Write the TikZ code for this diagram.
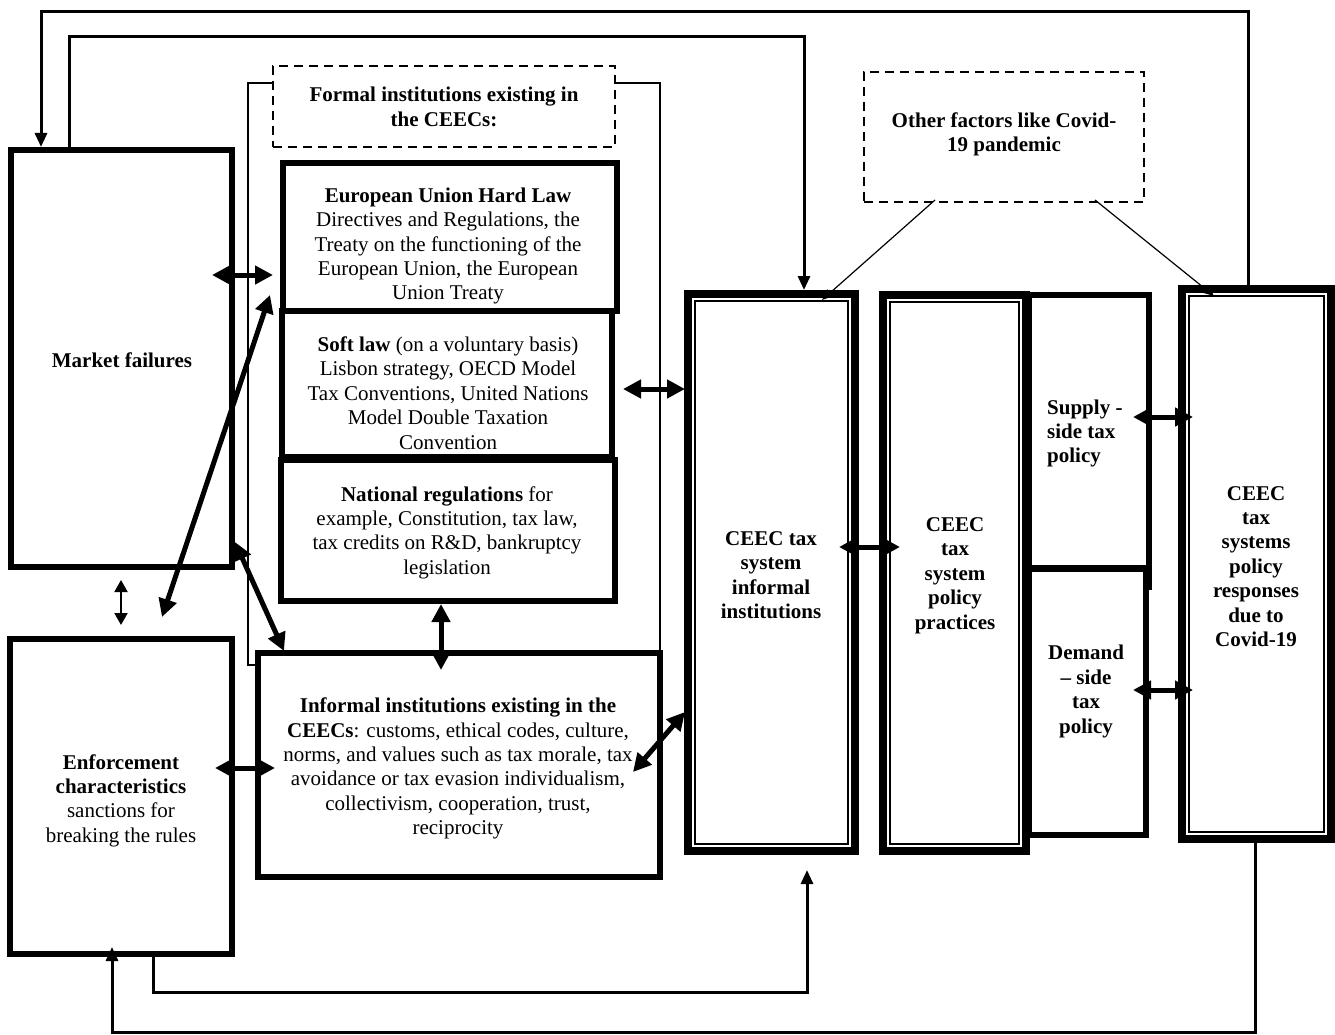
\documentclass[tikz,border=0pt]{standalone}
\usepackage{fontspec}
\setmainfont{Liberation Serif}
\usetikzlibrary{arrows.meta}
\begin{document}
\begin{tikzpicture}[x=1pt,y=-1pt,
  bx/.style={draw,line width=6pt,inner sep=0pt,outer sep=0pt},
  dbx/.style={draw,line width=8pt,inner sep=0pt,outer sep=0pt},
  innerline/.style={draw,line width=2pt},
  dsh/.style={draw,line width=2.5pt,dash pattern=on 9pt off 6pt,inner sep=0pt,outer sep=0pt},
  txt/.style={align=center,inner sep=0pt,font=\fontsize{21}{24.4}\selectfont},
  darr/.style={line width=5pt,arrows={Triangle[length=18pt,width=18pt]-Triangle[length=18pt,width=18pt]}},
  sarr/.style={line width=2pt,arrows={Triangle[length=12pt,width=13pt]-Triangle[length=12pt,width=13pt]}},
  link/.style={line width=3pt,-{Triangle[length=14pt,width=12pt]}},
  fine/.style={line width=1.2pt,-{Triangle[length=11pt,width=9pt]}},
  brk/.style={line width=1.5pt}]
\path[fill=white] (0,0) rectangle (1335,1035);
\useasboundingbox (0,0) rectangle (1335,1035);

% boxes
\node[bx,minimum width=221pt,minimum height=417pt] (mf) at (121.5,358.5) {};
\node[bx,minimum width=222pt,minimum height=315pt] (enf) at (121,796.5) {};
\node[bx,minimum width=334pt,minimum height=148pt] (eu) at (450,237) {};
\node[bx,minimum width=330pt,minimum height=146pt] (soft) at (447,384) {};
\node[bx,minimum width=334pt,minimum height=141pt] (nat) at (448,530.5) {};
\node[bx,minimum width=402pt,minimum height=224pt] (inf) at (459,765) {};
\node[dbx,minimum width=167pt,minimum height=557pt] (dinf) at (771.5,572.5) {};
\node[dbx,minimum width=143pt,minimum height=556pt] (prac) at (954.5,573) {};
\node[bx,minimum width=120pt,minimum height=273pt] (sup) at (1089,431.5) {};
\node[bx,minimum width=117pt,minimum height=266pt] (dem) at (1087.5,702) {};
\node[dbx,minimum width=149pt,minimum height=550pt] (resp) at (1256.5,564) {};
\node[dsh,minimum width=342pt,minimum height=81pt] (formal) at (444,106.5) {};
\node[dsh,minimum width=280pt,minimum height=130pt] (other) at (1004,137) {};

\draw[line width=6pt] (sup.south east) -- ++(0,22);

% inner lines of the double boxes
\draw[innerline] ([shift={(7pt,-7pt)}]dinf.north west) rectangle ([shift={(-7pt,7pt)}]dinf.south east);
\draw[innerline] ([shift={(7pt,-7pt)}]prac.north west) rectangle ([shift={(-7pt,7pt)}]prac.south east);
\draw[innerline] ([shift={(7pt,-7pt)}]resp.north west) rectangle ([shift={(-7pt,7pt)}]resp.south east);

% texts
\node[txt] (formalT) at (444,107) {\textbf{Formal institutions existing in}\\\textbf{the CEECs:}};
\node[txt] (otherT) at (1004,134.5) {\textbf{Other factors like Covid-}\\\textbf{19 pandemic}};
\node[txt] (mfT) at (122,360) {\textbf{Market failures}};
\node[txt] (euT) at (448,246) {\textbf{European Union Hard Law}\\Directives and Regulations, the\\Treaty on the functioning of the\\European Union, the European\\Union Treaty};
\node[txt] (softT) at (448,393) {\textbf{Soft law} (on a voluntary basis)\\Lisbon strategy, OECD Model\\Tax Conventions, United Nations\\Model Double Taxation\\Convention};
\node[txt] (natT) at (447,532.5) {\textbf{National regulations} for\\example, Constitution, tax law,\\tax credits on R\&D, bankruptcy\\legislation};
\node[txt] (infT) at (458,768.5) {\textbf{Informal institutions existing in the}\\\textbf{CEECs}: customs, ethical codes, culture,\\norms, and values such as tax morale, tax\\avoidance or tax evasion individualism,\\collectivism, cooperation, trust,\\reciprocity};
\node[txt] (enfT) at (121,800.5) {\textbf{Enforcement}\\\textbf{characteristics}\\sanctions for\\breaking the rules};
\node[txt] (dinfT) at (771,575) {\textbf{CEEC tax}\\\textbf{system}\\\textbf{informal}\\\textbf{institutions}};
\node[txt] (pracT) at (955,575.5) {\textbf{CEEC}\\\textbf{tax}\\\textbf{system}\\\textbf{policy}\\\textbf{practices}};
\node[txt,align=left,anchor=west] (supT) at (1047,433.5) {\textbf{Supply -}\\\textbf{side tax}\\\textbf{policy}};
\node[txt] (demT) at (1086,691.5) {\textbf{Demand}\\\textbf{– side}\\\textbf{tax}\\\textbf{policy}};
\node[txt] (respT) at (1256,566.5) {\textbf{CEEC}\\\textbf{tax}\\\textbf{systems}\\\textbf{policy}\\\textbf{responses}\\\textbf{due to}\\\textbf{Covid-19}};

% bracket of formal institutions
\draw[brk] ([yshift=23.5pt]formal.west) -| (248,665) -- ([yshift=-12pt]inf.north west);
\draw[brk] ([yshift=23.5pt]formal.east) -| (inf.north east);

% long connectors
\draw[link,shorten >=3pt] ([xshift=66pt]resp.north west) |- (41,12) -- ([xshift=30pt]mf.north west);
\draw[link,shorten >=4pt] ([xshift=58pt]mf.north west) |- (804,37) -- ([xshift=116pt]dinf.north west);
\draw[link,shorten >=19pt] ([xshift=143pt]enf.south west) |- (807,992) -- ([xshift=119pt]dinf.south west);
\draw[link] ([xshift=73pt]resp.south west) |- (112,1032) -- ([xshift=102pt,yshift=7pt]enf.south west);

% other factors arrows
\draw[fine] ([xshift=71pt,yshift=2pt]other.south west) -- ([xshift=-33pt,yshift=-6pt]dinf.north east);
\draw[fine] ([xshift=231pt,yshift=2pt]other.south west) -- ([xshift=32pt,yshift=-7pt]resp.north west);

% thick double arrows
\draw[darr] ([xshift=-20pt,yshift=83.5pt]mf.east) -- ([xshift=-10pt,yshift=-38pt]eu.west);
\draw[darr] ([xshift=40.5pt,yshift=-50pt]mf.south) -- ([xshift=-13pt,yshift=16pt]eu.south west);
\draw[darr] ([xshift=3pt,yshift=25pt]mf.south east) -- ([xshift=26pt,yshift=2pt]inf.north west);
\draw[darr] ([xshift=11pt,yshift=-5pt]soft.east) -- ([xshift=-3pt,yshift=183.5pt]dinf.west);
\draw[darr] ([xshift=-7pt,yshift=-3pt]nat.south) -- ([xshift=-18pt,yshift=-17pt]inf.north);
\draw[darr] ([xshift=-17pt,yshift=28.5pt]enf.east) -- ([xshift=17pt,yshift=-3pt]inf.west);
\draw[darr] ([xshift=-27pt,yshift=-7pt]inf.east) -- ([xshift=-3pt,yshift=-139.5pt]dinf.west);
\draw[darr] ([xshift=-16pt,yshift=25.5pt]dinf.east) -- ([xshift=17pt,yshift=26pt]prac.west);
\draw[darr] ([xshift=-16pt,yshift=14.5pt]sup.east) -- ([xshift=11pt,yshift=147pt]resp.west);
\draw[darr] ([xshift=-13pt,yshift=12pt]dem.east) -- ([xshift=11pt,yshift=-126pt]resp.west);
\draw[sarr] ([xshift=-0.5pt,yshift=-13pt]mf.south) -- ([yshift=14pt]enf.north);
\end{tikzpicture}
\end{document}
